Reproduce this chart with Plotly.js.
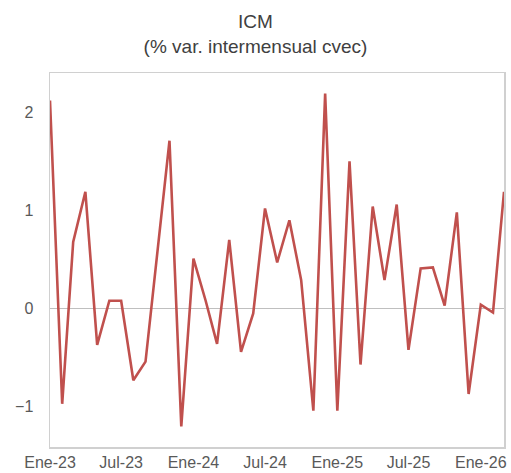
<!DOCTYPE html>
<html>
<head>
<meta charset="utf-8">
<script src="https://cdn.plot.ly/plotly-3.0.1.min.js"></script>
<style>html,body{margin:0;padding:0;background:#fff;}#chart{width:511px;height:473px;}</style>
</head>
<body>
<div id="chart"></div>
<script>
const months = [
  "2023-01-01","2023-02-01","2023-03-01","2023-04-01","2023-05-01","2023-06-01",
  "2023-07-01","2023-08-01","2023-09-01","2023-10-01","2023-11-01","2023-12-01",
  "2024-01-01","2024-02-01","2024-03-01","2024-04-01","2024-05-01","2024-06-01",
  "2024-07-01","2024-08-01","2024-09-01","2024-10-01","2024-11-01","2024-12-01",
  "2025-01-01","2025-02-01","2025-03-01","2025-04-01","2025-05-01","2025-06-01",
  "2025-07-01","2025-08-01","2025-09-01","2025-10-01","2025-11-01","2025-12-01",
  "2026-01-01","2026-02-01","2026-03-01"
];
const icmValues = [
  2.12, -0.97, 0.68, 1.19, -0.37, 0.08,
  0.08, -0.73, -0.54, 0.58, 1.71, -1.20,
  0.51, 0.08, -0.36, 0.70, -0.44, -0.05,
  1.02, 0.47, 0.90, 0.29, -1.04, 2.19,
  -1.04, 1.50, -0.57, 1.04, 0.29, 1.06,
  -0.42, 0.41, 0.42, 0.03, 0.98, -0.87,
  0.04, -0.04, 1.19
];
const xTickVals = ["2023-01-01","2023-07-01","2024-01-01","2024-07-01","2025-01-01","2025-07-01","2026-01-01"];
const xTickText = ["Ene-23","Jul-23","Ene-24","Jul-24","Ene-25","Jul-25","Ene-26"];
const yTickVals = [-1, 0, 1, 2];

const trace = {
  x: months,
  y: icmValues,
  type: "scatter",
  mode: "lines",
  line: {color: "#c0504d", width: 2.6},
  hoverinfo: "skip"
};

const layout = {
  width: 511,
  height: 473,
  margin: {l: 50, r: 7, t: 73, b: 26},
  paper_bgcolor: "#ffffff",
  plot_bgcolor: "#ffffff",
  showlegend: false,
  font: {family: "Arial, 'Liberation Sans', sans-serif", color: "#595959"},
  title: {
    text: "ICM<br>(% var. intermensual cvec)",
    x: 0.5, xref: "container", xanchor: "center",
    y: 0.941, yref: "container", yanchor: "top",
    font: {size: 19, color: "#404040", family: "Arial, 'Liberation Sans', sans-serif"}
  },
  xaxis: {
    type: "date",
    range: ["2023-01-01", "2026-03-01"],
    tickmode: "array",
    tickvals: xTickVals,
    ticktext: xTickText,
    showgrid: false,
    zeroline: false,
    showline: true,
    mirror: true,
    linecolor: "#d0d0d0",
    linewidth: 1.5,
    ticks: "",
    ticklabelstandoff: 0,
    tickfont: {size: 16, color: "#595959"}
  },
  yaxis: {
    range: [-1.41, 2.40],
    tickmode: "array",
    tickvals: yTickVals,
    showgrid: false,
    zeroline: true,
    zerolinecolor: "#bfbfbf",
    zerolinewidth: 1.5,
    showline: true,
    mirror: true,
    linecolor: "#d0d0d0",
    linewidth: 1.5,
    ticks: "",
    ticklabelstandoff: 12,
    tickfont: {size: 16, color: "#595959"}
  }
};

Plotly.newPlot("chart", [trace], layout, {displayModeBar: false, staticPlot: true});
</script>
</body>
</html>
